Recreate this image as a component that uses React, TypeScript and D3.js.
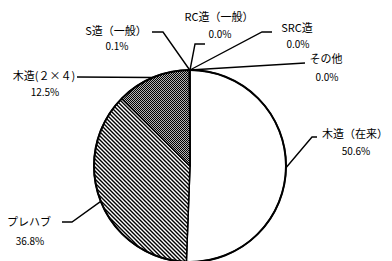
import React, { useEffect, useRef } from 'react';
import * as d3 from 'd3';

// Chart data
const categories = ['木造（在来）', 'プレハブ', '木造(２×４)', 'S造（一般）', 'RC造（一般）', 'SRC造', 'その他'];
const shares = [50.6, 36.8, 12.5, 0.1, 0.0, 0.0, 0.0];
const fills = ['#ffffff', 'url(#stripe)', 'url(#checker)', '#ffffff', '#ffffff', '#ffffff', '#ffffff'];

// label layout: name center / baseline, percent baseline, elbow points of the leader
const nameX = [355, 29, 44, 116, 219, 297, 326];
const nameY = [138, 226, 80, 35, 21, 32, 63];
const pctY = [155, 245, 96, 50, 38, 48, 81];
const elbows: number[][][] = [
  [[317, 137], [312, 137]],
  [[62, 222], [72, 222]],
  [[77, 77]],
  [[152, 32], [163, 32]],
  [[205, 44], [195, 44]],
  [[272, 32], [262, 32]],
  [[305, 63]],
];

const App: React.FC = () => {
  const svgRef = useRef<SVGSVGElement>(null);

  const width = 392;
  const height = 261;
  const cx = 190;
  const cy = 166;
  const radius = 96;

  useEffect(() => {
    if (!svgRef.current) return;
    const svg = d3.select(svgRef.current);
    svg.selectAll('*').remove();

    const defs = svg.append('defs');
    const stripe = defs.append('pattern')
      .attr('id', 'stripe')
      .attr('patternUnits', 'userSpaceOnUse')
      .attr('width', 4)
      .attr('height', 4);
    stripe.append('rect').attr('width', 4).attr('height', 4).attr('fill', '#fff');
    stripe.append('path')
      .attr('d', 'M-1,-1 L5,5 M-1,3 L1,5 M3,-1 L5,1')
      .attr('stroke', '#000')
      .attr('stroke-width', 1.4);

    // fine 1px checker (dark grey look)
    const checker = defs.append('pattern')
      .attr('id', 'checker')
      .attr('patternUnits', 'userSpaceOnUse')
      .attr('width', 2)
      .attr('height', 2);
    checker.append('rect').attr('width', 2).attr('height', 2).attr('fill', '#b4b4b4')
      .attr('shape-rendering', 'crispEdges');
    checker.append('rect').attr('width', 1).attr('height', 1).attr('fill', '#000')
      .attr('shape-rendering', 'crispEdges');
    checker.append('rect').attr('x', 1).attr('y', 1).attr('width', 1).attr('height', 1).attr('fill', '#000')
      .attr('shape-rendering', 'crispEdges');

    const data = categories.map((c, i) => ({ name: c, value: shares[i], fill: fills[i], idx: i }));
    const pie = d3.pie<any>().sort(null).value(d => d.value);
    const arcs = pie(data);
    const arc = d3.arc<any>().innerRadius(0).outerRadius(radius);

    const g = svg.append('g').attr('transform', `translate(${cx},${cy})`);

    g.selectAll('path.slice')
      .data(arcs.filter(a => a.data.value > 0))
      .join('path')
      .attr('class', 'slice')
      .attr('d', arc)
      .attr('fill', d => d.data.fill)
      .attr('stroke', '#000')
      .attr('stroke-width', 1.5)
      .attr('stroke-linejoin', 'round');

    g.append('circle')
      .attr('r', radius)
      .attr('fill', 'none')
      .attr('stroke', '#000')
      .attr('stroke-width', 2);

    // leader lines
    const line = d3.line();
    arcs.forEach((a, i) => {
      const mid = (a.startAngle + a.endAngle) / 2;
      const px = cx + Math.sin(mid) * radius;
      const py = cy - Math.cos(mid) * radius;
      const pts = [...elbows[i], [px, py]] as [number, number][];
      svg.append('path')
        .attr('d', line(pts))
        .attr('fill', 'none')
        .attr('stroke', '#000')
        .attr('stroke-width', 1.4);
    });

    // labels
    const labels = svg.append('g')
      .attr('font-family', '"Noto Sans CJK JP", "Noto Sans", sans-serif')
      .attr('fill', '#000')
      .attr('text-anchor', 'middle');

    labels.selectAll('text.name')
      .data(data)
      .join('text')
      .attr('class', 'name')
      .attr('x', d => nameX[d.idx])
      .attr('y', d => nameY[d.idx])
      .attr('font-size', 11)
      .text(d => d.name);

    labels.selectAll('text.pct')
      .data(data)
      .join('text')
      .attr('class', 'pct')
      .attr('x', d => nameX[d.idx] + 1)
      .attr('y', d => pctY[d.idx])
      .attr('font-size', 10)
      .text(d => `${d.value.toFixed(1)}%`);
  }, []);

  return (
    <svg
      ref={svgRef}
      width={width}
      height={height}
      style={{ position: 'absolute', left: 0, top: 0, background: '#fff' }}
    />
  );
};

export default App;
